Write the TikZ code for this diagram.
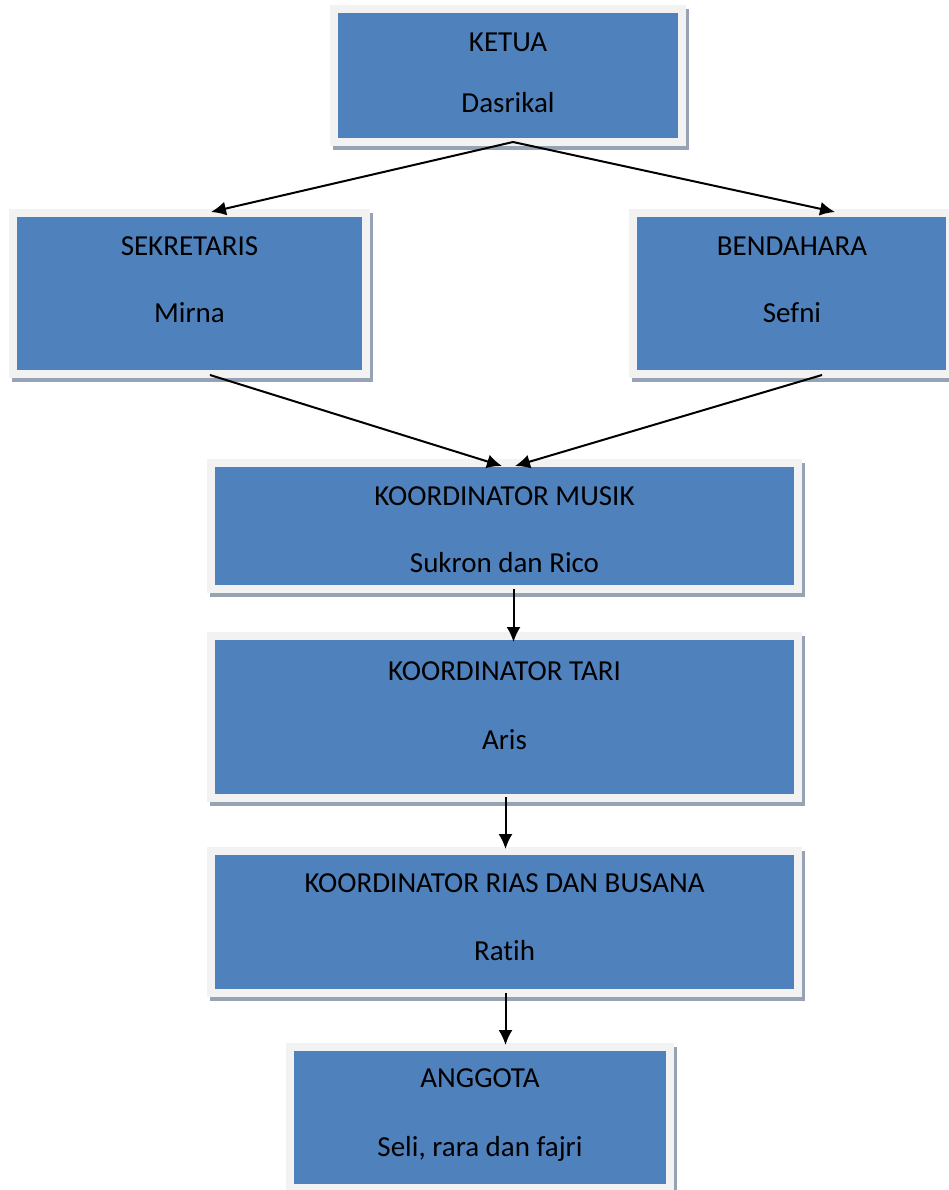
\documentclass[tikz,border=0pt]{standalone}
\usepackage{fontspec}
\setmainfont{Carlito}[Ligatures=NoCommon]
\usetikzlibrary{arrows.meta}
\definecolor{boxblue}{HTML}{4F81BD}
\definecolor{boxrim}{HTML}{F2F2F2}
\definecolor{boxshade}{HTML}{97A3B5}
\tikzset{
  orgbox/.style={rectangle, inner sep=0pt, outer sep=0pt,
    minimum width=#1, fill=boxblue, draw=boxrim, line width=8pt,
    preaction={draw=boxshade, fill=boxshade, line width=8pt,
      transform canvas={shift={(3pt,-4pt)}}}},
  lbl/.style={anchor=base, inner sep=0pt, font=\fontsize{29}{34}\selectfont, text=black},
  arr/.style={-{Latex[length=15pt,width=14pt]}, line width=2pt, black}
}
\begin{document}
\begin{tikzpicture}[x=1pt,y=-1pt]
\useasboundingbox (0,0) rectangle (949,1190);
% boxes (path on middle of the light rim)
\node[orgbox=348pt, minimum height=133pt] (ketua) at (508,75.5) {};
\node[orgbox=353pt, minimum height=161pt] (sek) at (189.5,293.5) {};
\node[orgbox=317pt, minimum height=161pt] (ben) at (791.5,293.5) {};
\node[orgbox=587pt, minimum height=126pt] (musik) at (504.5,526) {};
\node[orgbox=587pt, minimum height=162pt] (tari) at (504.5,717) {};
\node[orgbox=587pt, minimum height=142pt] (rias) at (504.5,922) {};
\node[orgbox=380pt, minimum height=141pt] (anggota) at (480,1117.5) {};
% texts
\node[lbl] (ketuaA) at (508,52) {KETUA};
\node[lbl] (ketuaB) at (508,113) {Dasrikal};
\node[lbl] (sekA) at (189.5,255) {SEKRETARIS};
\node[lbl] (sekB) at (189.5,322) {Mirna};
\node[lbl] (benA) at (792,255) {BENDAHARA};
\node[lbl] (benB) at (792,322) {Sefni};
\node[lbl] (musikA) at (504.5,505) {KOORDINATOR MUSIK};
\node[lbl] (musikB) at (504.5,572) {Sukron dan Rico};
\node[lbl] (tariA) at (504.5,680) {KOORDINATOR TARI};
\node[lbl] (tariB) at (504.5,749) {Aris};
\node[lbl] (riasA) at (504.5,892) {KOORDINATOR RIAS DAN BUSANA};
\node[lbl] (riasB) at (504.5,960) {Ratih};
\node[lbl] (anggotaA) at (480,1087) {ANGGOTA};
\node[lbl] (anggotaB) at (480,1156) {Seli, rara dan fajri};
% connectors
\draw[arr] ([xshift=5pt,yshift=0pt]ketua.south) -- ([xshift=21.5pt,yshift=1pt]sek.north);
\draw[arr] ([xshift=5pt,yshift=0pt]ketua.south) -- ([xshift=43.5pt,yshift=1pt]ben.north);
\draw[arr] ([xshift=20.5pt,yshift=-1pt]sek.south) -- ([xshift=-2.5pt,yshift=-3pt]musik.north);
\draw[arr] ([xshift=30.5pt,yshift=-1pt]ben.south) -- ([xshift=10.5pt,yshift=-3pt]musik.north);
\draw[arr] ([xshift=9pt]musik.south) -- ([xshift=9pt,yshift=-6pt]tari.north);
\draw[arr] ([xshift=1pt,yshift=1pt]tari.south) -- ([xshift=1pt,yshift=2pt]rias.north);
\draw[arr] ([xshift=1pt]rias.south) -- ([xshift=25.5pt,yshift=2pt]anggota.north);
\end{tikzpicture}
\end{document}
